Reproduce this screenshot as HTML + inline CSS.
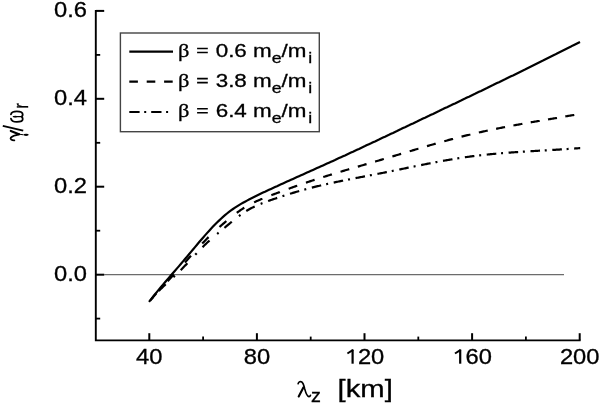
<!DOCTYPE html>
<html><head><meta charset="utf-8"><style>
html,body{margin:0;padding:0;background:#fff;}
svg{display:block;will-change:transform;}
text{fill:#000;stroke:#000;stroke-width:0.3px;}
</style></head><body>
<svg width="600" height="404" viewBox="0 0 600 404" font-family='"Liberation Sans", sans-serif'>
<rect width="600" height="404" fill="#fff"/>
<path d="M95.8,10 V340.4 H580.6" fill="none" stroke="#000" stroke-width="1.9"/>
<path d="M95.8,10.9 H104.2" stroke="#000" stroke-width="2"/>
<path d="M95.8,98.8 H104.2" stroke="#000" stroke-width="2"/>
<path d="M95.8,186.7 H104.2" stroke="#000" stroke-width="2"/>
<path d="M95.8,274.7 H104.2" stroke="#000" stroke-width="2"/>
<path d="M95.8,54.9 H100.2" stroke="#000" stroke-width="1.8"/>
<path d="M95.8,142.8 H100.2" stroke="#000" stroke-width="1.8"/>
<path d="M95.8,230.7 H100.2" stroke="#000" stroke-width="1.8"/>
<path d="M95.8,318.6 H100.2" stroke="#000" stroke-width="1.8"/>
<path d="M149.3,340.4 V333.2" stroke="#000" stroke-width="2"/>
<path d="M256.9,340.4 V333.2" stroke="#000" stroke-width="2"/>
<path d="M364.5,340.4 V333.2" stroke="#000" stroke-width="2"/>
<path d="M472.1,340.4 V333.2" stroke="#000" stroke-width="2"/>
<path d="M579.7,340.4 V333.2" stroke="#000" stroke-width="2"/>
<path d="M203.1,340.4 V336.6" stroke="#000" stroke-width="1.8"/>
<path d="M310.7,340.4 V336.6" stroke="#000" stroke-width="1.8"/>
<path d="M418.3,340.4 V336.6" stroke="#000" stroke-width="1.8"/>
<path d="M525.9,340.4 V336.6" stroke="#000" stroke-width="1.8"/>
<path d="M104,274.7 H564" stroke="#6c6c6c" stroke-width="1.3"/>
<path d="M149.0,301.9 L151.0,299.3 L153.0,296.8 L155.0,294.3 L157.0,291.9 L159.0,289.4 L161.0,287.0 L163.0,284.7 L165.0,282.3 L167.0,280.0 L169.0,277.6 L171.0,275.3 L173.0,273.0 L175.0,270.7 L177.0,268.4 L179.0,266.1 L181.0,263.7 L183.0,261.4 L185.0,259.0 L187.0,256.7 L189.0,254.3 L191.0,251.9 L193.0,249.5 L195.0,247.1 L197.0,244.7 L199.0,242.3 L201.0,240.0 L203.0,237.7 L205.0,235.4 L207.0,233.1 L209.0,230.9 L211.0,228.7 L213.0,226.6 L215.0,224.5 L217.0,222.5 L219.0,220.6 L221.0,218.7 L223.0,216.9 L225.0,215.2 L227.0,213.5 L229.0,211.9 L231.0,210.4 L233.0,209.0 L235.0,207.7 L237.0,206.4 L239.0,205.1 L241.0,203.9 L243.0,202.8 L245.0,201.7 L247.0,200.6 L249.0,199.5 L251.0,198.5 L253.0,197.5 L255.0,196.5 L257.0,195.5 L259.0,194.5 L261.0,193.5 L263.0,192.6 L265.0,191.7 L267.0,190.7 L269.0,189.8 L271.0,188.9 L273.0,188.0 L275.0,187.1 L277.0,186.2 L279.0,185.2 L281.0,184.3 L283.0,183.4 L285.0,182.5 L287.0,181.6 L289.0,180.7 L291.0,179.8 L293.0,178.9 L295.0,178.0 L297.0,177.1 L299.0,176.2 L301.0,175.3 L303.0,174.4 L305.0,173.5 L307.0,172.6 L309.0,171.7 L311.0,170.8 L313.0,169.9 L315.0,169.0 L317.0,168.1 L319.0,167.2 L321.0,166.3 L323.0,165.4 L325.0,164.5 L327.0,163.6 L329.0,162.7 L331.0,161.8 L333.0,160.9 L335.0,160.0 L337.0,159.0 L339.0,158.1 L341.0,157.2 L343.0,156.3 L345.0,155.4 L347.0,154.4 L349.0,153.5 L351.0,152.6 L353.0,151.7 L355.0,150.7 L357.0,149.8 L359.0,148.9 L361.0,147.9 L363.0,147.0 L365.0,146.1 L367.0,145.1 L369.0,144.2 L371.0,143.3 L373.0,142.3 L375.0,141.4 L377.0,140.4 L379.0,139.5 L381.0,138.5 L383.0,137.6 L385.0,136.7 L387.0,135.7 L389.0,134.8 L391.0,133.8 L393.0,132.9 L395.0,131.9 L397.0,131.0 L399.0,130.0 L401.0,129.1 L403.0,128.1 L405.0,127.2 L407.0,126.2 L409.0,125.3 L411.0,124.3 L413.0,123.4 L415.0,122.4 L417.0,121.5 L419.0,120.5 L421.0,119.6 L423.0,118.6 L425.0,117.7 L427.0,116.7 L429.0,115.8 L431.0,114.8 L433.0,113.9 L435.0,112.9 L437.0,111.9 L439.0,111.0 L441.0,110.0 L443.0,109.1 L445.0,108.1 L447.0,107.2 L449.0,106.2 L451.0,105.3 L453.0,104.3 L455.0,103.4 L457.0,102.4 L459.0,101.4 L461.0,100.5 L463.0,99.5 L465.0,98.6 L467.0,97.6 L469.0,96.7 L471.0,95.7 L473.0,94.7 L475.0,93.8 L477.0,92.8 L479.0,91.8 L481.0,90.9 L483.0,89.9 L485.0,88.9 L487.0,88.0 L489.0,87.0 L491.0,86.0 L493.0,85.1 L495.0,84.1 L497.0,83.1 L499.0,82.2 L501.0,81.2 L503.0,80.2 L505.0,79.3 L507.0,78.3 L509.0,77.3 L511.0,76.3 L513.0,75.4 L515.0,74.4 L517.0,73.4 L519.0,72.4 L521.0,71.4 L523.0,70.4 L525.0,69.5 L527.0,68.5 L529.0,67.5 L531.0,66.5 L533.0,65.5 L535.0,64.5 L537.0,63.5 L539.0,62.5 L541.0,61.5 L543.0,60.6 L545.0,59.6 L547.0,58.6 L549.0,57.6 L551.0,56.6 L553.0,55.6 L555.0,54.6 L557.0,53.5 L559.0,52.5 L561.0,51.5 L563.0,50.5 L565.0,49.5 L567.0,48.5 L569.0,47.5 L571.0,46.5 L573.0,45.4 L575.0,44.4 L577.0,43.4 L579.0,42.4 L580.0,41.9" fill="none" stroke="#000" stroke-width="2.2" stroke-linejoin="round"/>
<path d="M150.34,300.44 L150.98,299.67 L151.62,298.90 L152.27,298.14 L152.92,297.38 L153.57,296.62 L154.22,295.86 L154.88,295.11 L155.53,294.35 L156.20,293.60 L156.26,293.53 M167.63,281.12 L168.32,280.39 L169.00,279.67 L169.69,278.94 L170.37,278.21 L171.06,277.48 L171.75,276.76 L172.43,276.03 L173.12,275.30 L173.80,274.57 L173.87,274.50 M184.92,262.53 L185.59,261.79 L186.26,261.04 L186.93,260.30 L187.60,259.56 L188.27,258.81 L188.93,258.07 L189.60,257.32 L190.27,256.58 L190.94,255.84 L191.01,255.76 M202.21,243.59 L202.90,242.86 L203.59,242.14 L204.29,241.42 L204.99,240.71 L205.69,240.00 L206.40,239.29 L207.10,238.58 L207.81,237.87 L208.52,237.17 L208.60,237.10 M219.50,226.97 L220.25,226.31 L221.00,225.65 L221.76,224.99 L222.51,224.34 L223.27,223.69 L224.03,223.04 L224.80,222.39 L225.56,221.75 L226.33,221.10 L226.40,221.04 M236.79,212.83 L237.60,212.24 L238.41,211.66 L239.23,211.08 L240.05,210.51 L240.87,209.95 L241.70,209.39 L242.54,208.84 L243.38,208.30 L244.22,207.76 L244.31,207.71 M254.08,202.37 L254.98,201.94 L255.89,201.51 L256.80,201.10 L257.71,200.69 L258.63,200.29 L259.54,199.89 L260.46,199.50 L261.39,199.11 L262.31,198.73 L262.40,198.69 M271.37,195.18 L272.30,194.83 L273.24,194.47 L274.17,194.12 L275.11,193.77 L276.05,193.41 L276.98,193.06 L277.92,192.71 L278.85,192.36 L279.79,192.01 L279.88,191.97 M288.66,188.75 L289.60,188.41 L290.54,188.07 L291.48,187.73 L292.42,187.39 L293.37,187.06 L294.31,186.72 L295.25,186.39 L296.19,186.05 L297.14,185.72 L297.23,185.69 M305.95,182.68 L306.90,182.36 L307.84,182.04 L308.79,181.72 L309.74,181.41 L310.69,181.09 L311.64,180.78 L312.59,180.46 L313.54,180.15 L314.49,179.84 L314.59,179.81 M323.24,177.04 L324.19,176.74 L325.15,176.44 L326.10,176.14 L327.06,175.84 L328.01,175.55 L328.97,175.25 L329.92,174.96 L330.88,174.66 L331.84,174.37 L331.93,174.34 M340.53,171.74 L341.49,171.45 L342.45,171.17 L343.40,170.88 L344.36,170.60 L345.32,170.31 L346.28,170.03 L347.24,169.75 L348.20,169.46 L349.16,169.18 L349.25,169.15 M357.82,166.64 L358.78,166.36 L359.74,166.08 L360.70,165.80 L361.66,165.52 L362.62,165.24 L363.58,164.96 L364.54,164.68 L365.50,164.40 L366.46,164.12 L366.56,164.09 M375.11,161.59 L376.07,161.31 L377.03,161.02 L377.99,160.74 L378.95,160.46 L379.91,160.18 L380.87,159.89 L381.82,159.61 L382.78,159.32 L383.74,159.04 L383.84,159.01 M392.40,156.45 L393.36,156.16 L394.32,155.88 L395.27,155.59 L396.23,155.30 L397.19,155.01 L398.15,154.73 L399.10,154.44 L400.06,154.15 L401.02,153.86 L401.12,153.83 M409.69,151.26 L410.65,150.98 L411.61,150.69 L412.56,150.40 L413.52,150.12 L414.48,149.83 L415.44,149.55 L416.40,149.26 L417.36,148.98 L418.32,148.69 L418.41,148.67 M426.98,146.15 L427.94,145.87 L428.90,145.59 L429.86,145.31 L430.82,145.03 L431.78,144.76 L432.74,144.48 L433.71,144.20 L434.67,143.93 L435.63,143.66 L435.72,143.63 M444.27,141.23 L445.23,140.97 L446.20,140.70 L447.16,140.44 L448.13,140.18 L449.09,139.91 L450.06,139.65 L451.02,139.39 L451.99,139.13 L452.96,138.88 L453.05,138.85 M461.56,136.64 L462.53,136.40 L463.50,136.15 L464.47,135.91 L465.44,135.67 L466.41,135.43 L467.38,135.19 L468.35,134.96 L469.33,134.72 L470.30,134.49 L470.40,134.46 M478.85,132.50 L479.83,132.28 L480.80,132.06 L481.78,131.85 L482.75,131.63 L483.73,131.42 L484.71,131.20 L485.69,130.99 L486.66,130.78 L487.64,130.57 L487.74,130.55 M496.14,128.81 L497.12,128.61 L498.10,128.42 L499.08,128.22 L500.06,128.03 L501.04,127.83 L502.02,127.64 L503.01,127.45 L503.99,127.26 L504.97,127.07 L505.07,127.05 M513.43,125.47 L514.41,125.29 L515.40,125.11 L516.38,124.93 L517.36,124.75 L518.35,124.57 L519.33,124.39 L520.32,124.21 L521.30,124.04 L522.28,123.86 L522.38,123.84 M530.72,122.37 L531.71,122.20 L532.69,122.03 L533.68,121.86 L534.66,121.68 L535.65,121.51 L536.63,121.34 L537.62,121.17 L538.60,121.01 L539.59,120.84 L539.69,120.82 M548.01,119.40 L549.00,119.23 L549.98,119.06 L550.97,118.89 L551.95,118.73 L552.94,118.56 L553.92,118.39 L554.91,118.22 L555.90,118.06 L556.88,117.89 L556.98,117.87 M565.30,116.45 L566.29,116.28 L567.27,116.11 L568.26,115.94 L569.24,115.77 L570.23,115.59 L571.21,115.42 L572.20,115.25 L573.18,115.08 L574.17,114.91 L574.27,114.89" fill="none" stroke="#000" stroke-width="2.2"/>
<path d="M151.61,298.87 L151.94,298.49 L152.26,298.11 L152.59,297.73 L152.91,297.35 M158.82,290.96 L159.52,290.25 L160.23,289.54 L160.94,288.83 L161.65,288.13 L162.36,287.43 L163.08,286.74 L163.81,286.05 L164.53,285.36 L165.26,284.67 L165.69,284.26 M173.39,277.14 L173.75,276.79 L174.12,276.45 L174.49,276.11 L174.85,275.77 M180.68,270.15 L181.39,269.44 L182.09,268.73 L182.79,268.01 L183.48,267.30 L184.18,266.58 L184.87,265.86 L185.56,265.13 L186.25,264.41 L186.94,263.68 L187.35,263.24 M195.30,254.73 L195.64,254.36 L195.98,254.00 L196.32,253.64 L196.67,253.27 M202.54,247.19 L203.25,246.48 L203.96,245.78 L204.67,245.08 L205.39,244.38 L206.11,243.69 L206.84,243.01 L207.57,242.32 L208.30,241.64 L209.04,240.97 L209.49,240.56 M217.07,233.97 L217.46,233.65 L217.84,233.32 L218.22,233.00 L218.61,232.68 M224.40,227.87 L225.17,227.23 L225.94,226.60 L226.71,225.95 L227.47,225.31 L228.24,224.67 L229.01,224.03 L229.78,223.40 L230.55,222.76 L231.32,222.12 L231.79,221.74 M238.90,216.12 L239.30,215.82 L239.70,215.52 L240.10,215.23 L240.51,214.93 M246.26,211.05 L247.11,210.53 L247.97,210.02 L248.84,209.52 L249.71,209.03 L250.59,208.55 L251.48,208.09 L252.36,207.63 L253.26,207.18 L254.16,206.74 L254.70,206.48 M260.63,203.88 L261.10,203.70 L261.56,203.51 L262.02,203.33 L262.49,203.15 M268.12,201.05 L269.06,200.72 L270.00,200.38 L270.95,200.05 L271.89,199.72 L272.84,199.40 L273.78,199.07 L274.73,198.74 L275.67,198.42 L276.62,198.10 L277.19,197.91 M282.47,196.16 L282.94,196.01 L283.42,195.86 L283.90,195.70 L284.37,195.55 M289.98,193.79 L290.94,193.49 L291.89,193.20 L292.85,192.91 L293.81,192.63 L294.77,192.34 L295.73,192.06 L296.68,191.78 L297.65,191.50 L298.61,191.22 L299.18,191.05 M304.32,189.62 L304.80,189.49 L305.28,189.36 L305.76,189.23 L306.25,189.10 M311.84,187.63 L312.81,187.38 L313.78,187.14 L314.75,186.90 L315.72,186.66 L316.69,186.42 L317.66,186.18 L318.64,185.95 L319.61,185.72 L320.58,185.49 L321.17,185.35 M326.16,184.20 L326.65,184.09 L327.14,183.98 L327.63,183.87 L328.12,183.77 M333.70,182.55 L334.68,182.34 L335.66,182.14 L336.64,181.93 L337.61,181.73 L338.59,181.52 L339.57,181.32 L340.55,181.12 L341.53,180.92 L342.51,180.72 L343.10,180.60 M348.02,179.62 L348.51,179.52 L349.00,179.42 L349.49,179.33 L349.98,179.23 M355.56,178.14 L356.54,177.95 L357.52,177.76 L358.51,177.57 L359.49,177.39 L360.47,177.20 L361.45,177.01 L362.43,176.82 L363.42,176.63 L364.40,176.44 L364.99,176.33 M369.88,175.39 L370.37,175.29 L370.86,175.20 L371.35,175.11 L371.84,175.01 M377.42,173.93 L378.40,173.73 L379.38,173.54 L380.36,173.35 L381.34,173.15 L382.33,172.96 L383.31,172.76 L384.29,172.57 L385.27,172.37 L386.25,172.17 L386.84,172.05 M391.74,171.06 L392.23,170.96 L392.72,170.86 L393.21,170.76 L393.70,170.66 M399.28,169.51 L400.26,169.31 L401.24,169.11 L402.22,168.91 L403.20,168.71 L404.18,168.51 L405.16,168.31 L406.14,168.10 L407.12,167.90 L408.10,167.70 L408.68,167.58 M413.60,166.58 L414.09,166.48 L414.58,166.38 L415.07,166.28 L415.56,166.18 M421.14,165.05 L422.12,164.85 L423.10,164.66 L424.08,164.46 L425.06,164.27 L426.04,164.07 L427.03,163.88 L428.01,163.69 L428.99,163.50 L429.97,163.31 L430.56,163.19 M435.46,162.26 L435.95,162.16 L436.44,162.07 L436.93,161.98 L437.42,161.89 M443.00,160.86 L443.98,160.69 L444.97,160.51 L445.95,160.34 L446.94,160.16 L447.92,159.99 L448.91,159.82 L449.89,159.65 L450.88,159.48 L451.87,159.32 L452.46,159.22 M457.31,158.43 L457.81,158.35 L458.30,158.27 L458.79,158.19 L459.29,158.12 M464.86,157.28 L465.85,157.14 L466.84,157.00 L467.83,156.86 L468.82,156.72 L469.81,156.59 L470.80,156.46 L471.79,156.32 L472.79,156.20 L473.78,156.07 L474.37,155.99 M479.17,155.42 L479.66,155.36 L480.16,155.30 L480.66,155.24 L481.15,155.19 M486.72,154.59 L487.71,154.49 L488.71,154.39 L489.70,154.29 L490.70,154.19 L491.70,154.10 L492.69,154.00 L493.69,153.91 L494.68,153.82 L495.68,153.73 L496.28,153.67 M501.02,153.27 L501.52,153.23 L502.02,153.19 L502.52,153.15 L503.02,153.11 M508.58,152.68 L509.58,152.60 L510.57,152.53 L511.57,152.46 L512.57,152.39 L513.57,152.32 L514.56,152.25 L515.56,152.18 L516.56,152.11 L517.56,152.04 L518.16,152.00 M522.88,151.70 L523.38,151.67 L523.88,151.64 L524.38,151.60 L524.88,151.57 M530.44,151.23 L531.44,151.17 L532.44,151.12 L533.43,151.06 L534.43,151.00 L535.43,150.94 L536.43,150.88 L537.43,150.82 L538.43,150.77 L539.42,150.71 L540.02,150.67 M544.74,150.40 L545.24,150.37 L545.74,150.34 L546.24,150.31 L546.74,150.29 M552.30,149.96 L553.30,149.90 L554.30,149.84 L555.29,149.78 L556.29,149.72 L557.29,149.66 L558.29,149.60 L559.29,149.54 L560.29,149.47 L561.28,149.41 L561.88,149.37 M566.60,149.07 L567.10,149.04 L567.60,149.00 L568.10,148.97 L568.60,148.93 M574.16,148.54 L575.16,148.47 L576.15,148.40 L577.15,148.32 L578.15,148.25 L579.15,148.17 L580.14,148.09 L580.20,148.09" fill="none" stroke="#000" stroke-width="2.2"/>
<text transform="translate(87,17.0) scale(1.115,1)" text-anchor="end" font-size="21.3">0.6</text>
<text transform="translate(87,104.9) scale(1.115,1)" text-anchor="end" font-size="21.3">0.4</text>
<text transform="translate(87,192.8) scale(1.115,1)" text-anchor="end" font-size="21.3">0.2</text>
<text transform="translate(87,280.8) scale(1.115,1)" text-anchor="end" font-size="21.3">0.0</text>
<text transform="translate(149.3,364) scale(1.115,1)" text-anchor="middle" font-size="21.3">40</text>
<text transform="translate(256.9,364) scale(1.115,1)" text-anchor="middle" font-size="21.3">80</text>
<text transform="translate(364.5,364) scale(1.115,1)" text-anchor="middle" font-size="21.3"><tspan visibility="hidden">1</tspan>20</text>
<path d="M352.6,363.7 V349.6" stroke="#000" stroke-width="2.2"/><path d="M353.1,349.9 L347.4,353.5" stroke="#000" stroke-width="2"/>
<text transform="translate(472.1,364) scale(1.115,1)" text-anchor="middle" font-size="21.3"><tspan visibility="hidden">1</tspan>60</text>
<path d="M460.2,363.7 V349.6" stroke="#000" stroke-width="2.2"/><path d="M460.7,349.9 L455.0,353.5" stroke="#000" stroke-width="2"/>
<text transform="translate(579.7,364) scale(1.115,1)" text-anchor="middle" font-size="21.3">200</text>
<rect x="120.4" y="33" width="198.9" height="98.7" fill="none" stroke="#444" stroke-width="1.4"/>
<path d="M129.3,51.7 H173" stroke="#000" stroke-width="2.2"/>
<path d="M129.3,81.7 H173" stroke="#000" stroke-width="2.2" stroke-dasharray="8.6 8.8"/>
<path d="M129.3,112 H170" stroke="#000" stroke-width="2.2" stroke-dasharray="10.3 4.6 2 5"/>
<path d="M197.1,48.5 H207.8 M197.1,52.5 H207.8" stroke="#000" stroke-width="1.6"/>
<g transform="translate(178.7,57.1) scale(1.18,1)"><text font-size="19"><tspan dx="-0.7" style='font-family:"Liberation Serif", serif'>β</tspan><tspan dx="0.7"> </tspan><tspan visibility="hidden">=</tspan> 0.6 m<tspan font-size="15" dy="6">e</tspan><tspan dy="-6">/m</tspan><tspan font-size="15" dy="6" dx="1.5">i</tspan></text></g>
<path d="M197.1,78.6 H207.8 M197.1,82.6 H207.8" stroke="#000" stroke-width="1.6"/>
<g transform="translate(178.7,87.2) scale(1.18,1)"><text font-size="19"><tspan dx="-0.7" style='font-family:"Liberation Serif", serif'>β</tspan><tspan dx="0.7"> </tspan><tspan visibility="hidden">=</tspan> 3.8 m<tspan font-size="15" dy="6">e</tspan><tspan dy="-6">/m</tspan><tspan font-size="15" dy="6" dx="1.5">i</tspan></text></g>
<path d="M197.1,108.8 H207.8 M197.1,112.8 H207.8" stroke="#000" stroke-width="1.6"/>
<g transform="translate(178.7,117.4) scale(1.18,1)"><text font-size="19"><tspan dx="-0.7" style='font-family:"Liberation Serif", serif'>β</tspan><tspan dx="0.7"> </tspan><tspan visibility="hidden">=</tspan> 6.4 m<tspan font-size="15" dy="6">e</tspan><tspan dy="-6">/m</tspan><tspan font-size="15" dy="6" dx="1.5">i</tspan></text></g>
<path d="M298.1,383.8 C298.6,381.8 300.5,381.2 301.8,382 C303,382.8 303.8,385 304.6,388.5 C305.8,393 307,396.6 309,396.6 C309.8,396.6 310.3,396 310.5,395.2" fill="none" stroke="#000" stroke-width="1.6" stroke-linecap="round"/>
<path d="M303.4,387.4 L298.7,396.5" fill="none" stroke="#000" stroke-width="2.1" stroke-linecap="round"/>
<text transform="translate(311,401.7) scale(1.1,1)" font-size="18">z</text>
<text transform="translate(337.6,397.1) scale(1.22,1)" font-size="24">[km]</text>
<g transform="translate(22.8,140.3) scale(1.2,1) rotate(-90)"><text x="31.5" y="4.5" font-size="17">r</text></g>
<path d="M2.8,125.8 L23.2,130.7" stroke="#000" stroke-width="1.9"/>
<path d="M10.8,131 L19,134.2" stroke="#000" stroke-width="2.2" stroke-linecap="round"/>
<path d="M19,134.2 L23.5,134.8" stroke="#000" stroke-width="1"/>
<ellipse cx="26.1" cy="134.8" rx="2.6" ry="1.15" fill="#000"/>
<path d="M19.2,134.3 C15.5,135 12.3,136 10.8,137.6 C9.9,139 11.5,140.4 14.4,140.3" fill="none" stroke="#000" stroke-width="1.7" stroke-linecap="round"/>
<path d="M10.95,114.3 C11.4,112 14,111.35 16.8,111.35 C20.5,111.35 22.7,112.6 22.7,114.4 C22.7,115.9 21.8,116.6 21,116.6 C21.8,116.6 22.7,117.6 22.7,119.3 C22.7,121 20.5,121.9 16.8,121.9 C13.8,121.9 11.4,121 10.95,118.6" fill="none" stroke="#000" stroke-width="1.8" stroke-linecap="round"/>
<path d="M21.3,116.6 L13.3,116.6" stroke="#000" stroke-width="1.2" stroke-linecap="round"/>
<ellipse cx="15.3" cy="116.6" rx="2" ry="0.95" fill="#000"/>
</svg>
</body></html>
